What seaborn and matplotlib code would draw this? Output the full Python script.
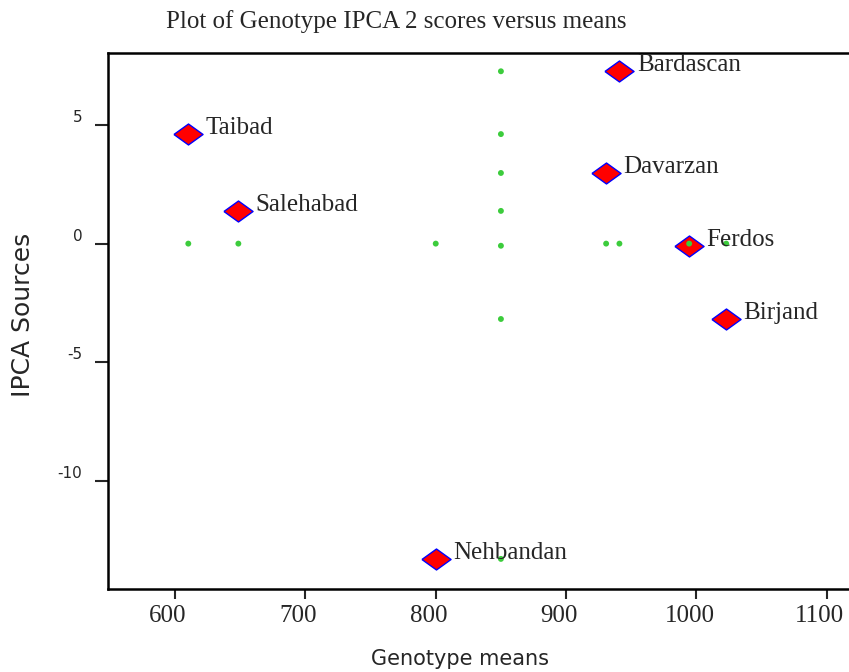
import pandas as pd
import seaborn as sns
import matplotlib.pyplot as plt
from matplotlib.markers import MarkerStyle
from matplotlib.transforms import ScaledTranslation

# genotype means and IPCA 2 scores
genotypes = ['Taibad', 'Salehabad', 'Nehbandan', 'Davarzan', 'Bardascan', 'Ferdos', 'Birjand']
means = [610.2, 648.6, 800.0, 930.7, 940.9, 994.4, 1022.8]
ipca2 = [4.62, 1.38, -13.30, 2.98, 7.27, -0.09, -3.18]
grand_mean = 850

xticks = [600, 700, 800, 900, 1000, 1100]
yticks = [5, 0, -5, -10]

df = pd.DataFrame({'genotype': genotypes, 'mean': means, 'ipca2': ipca2})

# green points: projections on the grand mean line and on the zero line
proj = pd.concat([
    pd.DataFrame({'mean': [grand_mean] * len(df), 'ipca2': df['ipca2']}),
    pd.DataFrame({'mean': df['mean'], 'ipca2': [0] * len(df)}),
], ignore_index=True)

sns.set_style('white')
serif = ['Liberation Serif', 'DejaVu Serif']
sans = ['DejaVu Sans']
plt.rcParams['font.family'] = sans

fig = plt.figure(figsize=(8.49, 6.72), dpi=100)
ax = fig.add_axes([0.1272, 0.1235, 0.8728, 0.7976])

diamond = MarkerStyle([(-1, 0), (0, 0.72), (1, 0), (0, -0.72), (-1, 0)])
sns.scatterplot(data=df, x='mean', y='ipca2', marker=diamond, s=440,
                color='red', edgecolor='blue', linewidth=1, ax=ax, zorder=3)
sns.scatterplot(data=proj, x='mean', y='ipca2', s=18, color='#3ccc3c',
                edgecolor='none', ax=ax, zorder=4)

for g, x, y in zip(genotypes, means, ipca2):
    ax.annotate(g, (x, y), xytext=(12.5, 0), textcoords='offset points',
                fontsize=18, family=serif, ha='left', va='baseline', zorder=5)

ax.set_xlim(548.6, 1117)
ax.set_ylim(-14.57, 8.04)
ax.set_xticks(xticks)
ax.set_yticks(yticks)
ax.set_xticklabels([str(t) for t in xticks], fontsize=18, family=serif)
ax.set_yticklabels([str(t) for t in yticks], fontsize=11, family=sans)

ax.tick_params(axis='x', direction='out', length=7.2, width=1.5, pad=4, bottom=True)
ax.tick_params(axis='y', direction='out', length=9.4, width=1.5, pad=9, left=True)

# x labels sit a little left of their ticks in the original
# (done after tick_params, which resets label transforms)
shift = ScaledTranslation(-7 / 100, 0, fig.dpi_scale_trans)
for lab in ax.get_xticklabels():
    lab.set_transform(lab.get_transform() + shift)
for lab in ax.get_yticklabels():
    lab.set_verticalalignment('bottom')

for side in ['left', 'bottom', 'top']:
    ax.spines[side].set_linewidth(1.8)
    ax.spines[side].set_color('black')
ax.spines['right'].set_visible(False)

ax.set_xlabel('Genotype means', fontsize=15, family=sans)
ax.xaxis.set_label_coords(0.4757, -0.1418)
ax.xaxis.label.set_verticalalignment('baseline')
ax.set_ylabel('IPCA Sources', fontsize=18, family=sans)
ax.yaxis.set_label_coords(-0.1147, 0.511)
ax.yaxis.label.set_verticalalignment('center')

fig.text(0.4664, 1 - 28 / 672, 'Plot of Genotype IPCA 2 scores versus means',
         fontsize=18, family=serif, ha='center', va='baseline')

fig.savefig('out.png', dpi=100)
